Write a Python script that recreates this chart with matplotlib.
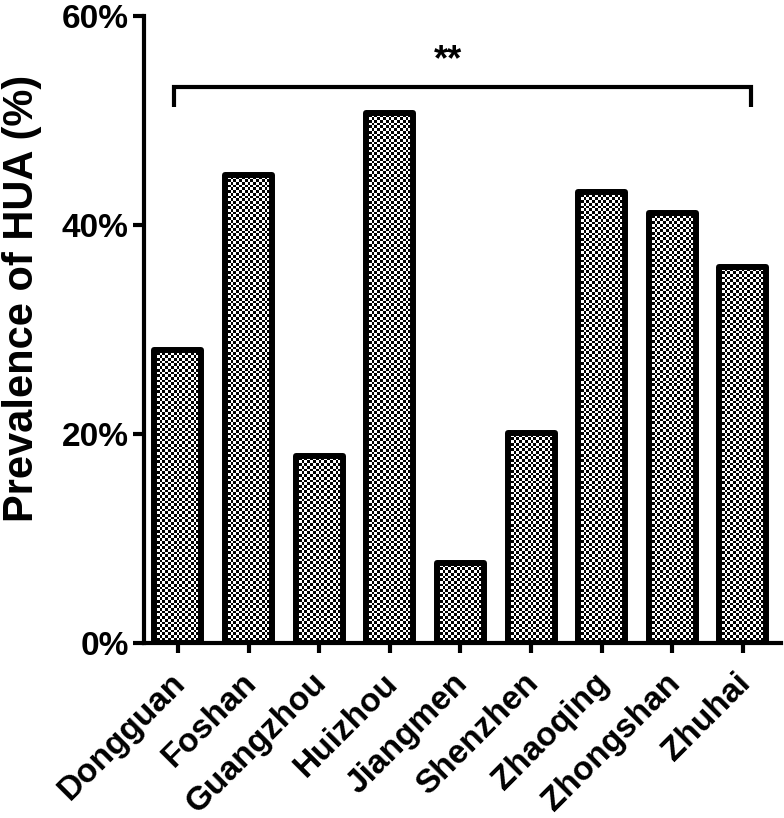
import numpy as np
import matplotlib
matplotlib.use('Agg')
import matplotlib.pyplot as plt
import matplotlib.transforms as mtransforms

plt.rcParams['font.family'] = ['Liberation Sans', 'DejaVu Sans']

cities = ['Dongguan', 'Foshan', 'Guangzhou', 'Huizhou', 'Jiangmen',
          'Shenzhen', 'Zhaoqing', 'Zhongshan', 'Zhuhai']
prevalence = [28.0, 44.8, 17.9, 50.7, 7.7, 20.1, 43.1, 41.1, 36.0]
yticks = [0, 20, 40, 60]
ytick_labels = ['0%', '20%', '40%', '60%']
sig_label = '**'

fig = plt.figure(figsize=(7.84, 8.18), dpi=100)
ax = fig.add_axes([0.1837, 0.2139, 0.8125, 0.7671])

x = np.arange(len(cities))
bars = ax.bar(x, prevalence, width=0.666, facecolor='none', edgecolor='black',
              linewidth=4.3, joinstyle='round', zorder=3)

# checkerboard fill clipped to each bar
cell_x = 0.0382
cell_y = 0.258
for b, v in zip(bars, prevalence):
    x0 = b.get_x()
    w = b.get_width()
    ncols = max(1, int(round(w / cell_x)))
    nrows = max(1, int(round(v / cell_y)))
    checker = np.add.outer(np.arange(nrows), np.arange(ncols)) % 2
    im = ax.imshow(checker, cmap='gray', vmin=0, vmax=1, extent=(x0, x0 + w, 0, v),
                   interpolation='nearest', aspect='auto', origin='lower', zorder=2)
    im.set_clip_path(b)

ax.set_xlim(-0.48, 8.54)
ax.set_ylim(0, 60)

# significance bracket
xl, xr = -0.06, 8.11
ytop, ybot = 53.2, 51.3
ax.plot([xl, xl, xr, xr], [ybot, ytop, ytop, ybot], color='black', lw=3,
        clip_on=False, solid_joinstyle='miter', solid_capstyle='butt', zorder=4)
ax.text(3.82, 54.8, sig_label, ha='center', va='baseline', fontsize=26,
        fontweight='bold')

for s in ['top', 'right']:
    ax.spines[s].set_visible(False)
for s in ['left', 'bottom']:
    ax.spines[s].set_linewidth(3)

ax.set_yticks(yticks)
ax.set_yticklabels(ytick_labels, fontsize=24, fontweight='bold')
ax.set_xticks(x)
ax.set_xticklabels(cities, rotation=45, ha='right', rotation_mode='anchor',
                   fontsize=24, fontweight='bold')
ax.tick_params(axis='y', length=8, width=3, pad=3)
ax.tick_params(axis='x', length=7.5, width=3, pad=10)
shift = mtransforms.ScaledTranslation(-8 / 100, 0, fig.dpi_scale_trans)
for lbl in ax.get_xticklabels():
    lbl.set_transform(lbl.get_transform() + shift)

ax.set_ylabel('Prevalence of HUA (%)', fontsize=30, fontweight='bold')
ax.yaxis.set_label_coords(-0.16, 0.55)

fig.savefig('out.png', dpi=100)
